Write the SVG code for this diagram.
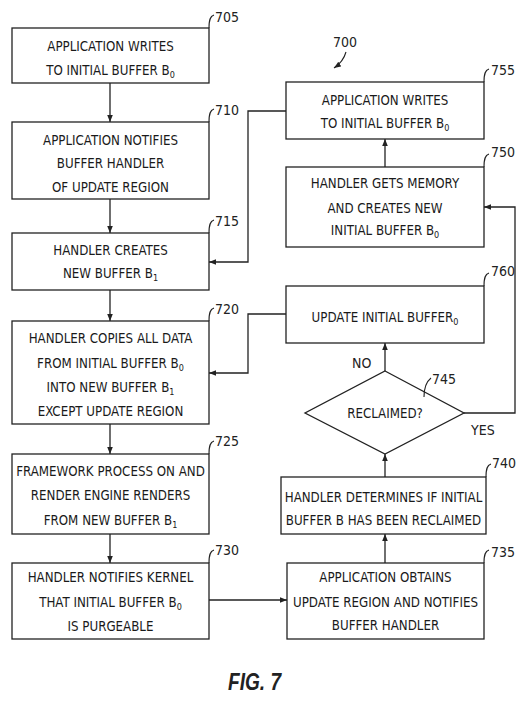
<svg xmlns="http://www.w3.org/2000/svg" width="529" height="702" viewBox="0 0 529 702">
<defs>
<marker id="ah" viewBox="0 0 10 10" refX="10" refY="5" markerWidth="7" markerHeight="7" markerUnits="userSpaceOnUse" orient="auto"><path d="M0,1 L10,5 L0,9 Z" fill="#222"/></marker>
</defs>
<style>
.box{fill:#fff;stroke:#222;stroke-width:1.3}
.t{font-family:"DejaVu Sans Condensed","Liberation Sans Narrow","Liberation Sans",sans-serif;font-size:13.2px;fill:#1a1a1a;text-anchor:middle}
.lbl{font-family:"DejaVu Sans Condensed","Liberation Sans Narrow","Liberation Sans",sans-serif;font-size:14px;fill:#222}
.c{fill:none;stroke:#222;stroke-width:1.3}
.ld{fill:none;stroke:#222;stroke-width:1.1}
.s{font-size:9px}
</style>
<rect width="529" height="702" fill="#fff"/>
<g id="connectors">
<path class="c" d="M110,83 V122" marker-end="url(#ah)"/>
<path class="c" d="M110,199 V233" marker-end="url(#ah)"/>
<path class="c" d="M110,290 V321" marker-end="url(#ah)"/>
<path class="c" d="M110,424 V454" marker-end="url(#ah)"/>
<path class="c" d="M110,534 V563" marker-end="url(#ah)"/>
<path class="c" d="M209,600 H287" marker-end="url(#ah)"/>
<path class="c" d="M385,563 V534" marker-end="url(#ah)"/>
<path class="c" d="M385,477 V454" marker-end="url(#ah)"/>
<path class="c" d="M385,371 V343" marker-end="url(#ah)"/>
<path class="c" d="M464,413 H515 V207 H484" marker-end="url(#ah)"/>
<path class="c" d="M385,167 V139" marker-end="url(#ah)"/>
<path class="c" d="M286,111 H248 V262 H209" marker-end="url(#ah)"/>
<path class="c" d="M286,314 H248 V373 H209" marker-end="url(#ah)"/>
<text class="lbl" x="352" y="368">NO</text>
<text class="lbl" x="471" y="435">YES</text>
</g>
<g id="n700">
<text class="lbl" x="333" y="47">700</text>
<path class="ld" d="M346,52 C344,59 340,64 334,68" marker-end="url(#ah)"/>
</g>
<g id="n705">
<rect class="box" x="12" y="28" width="197" height="55"/>
<text class="t" x="110.5" y="51">APPLICATION WRITES</text>
<text class="t" x="110.5" y="75">TO INITIAL BUFFER B<tspan class="s" dy="3">0</tspan></text>
<path class="ld" d="M209,28 C209,20 210,16 214,15"/><text class="lbl" x="215" y="22">705</text>
</g>
<g id="n710">
<rect class="box" x="12" y="122" width="197" height="77"/>
<text class="t" x="110.5" y="145">APPLICATION NOTIFIES</text>
<text class="t" x="110.5" y="168">BUFFER HANDLER</text>
<text class="t" x="110.5" y="192">OF UPDATE REGION</text>
<path class="ld" d="M209,122 C209,114 210,110 214,109"/><text class="lbl" x="215" y="115">710</text>
</g>
<g id="n715">
<rect class="box" x="12" y="233" width="197" height="57"/>
<text class="t" x="110.5" y="255">HANDLER CREATES</text>
<text class="t" x="110.5" y="278">NEW BUFFER B<tspan class="s" dy="3">1</tspan></text>
<path class="ld" d="M209,233 C209,225 210,221 214,220"/><text class="lbl" x="215" y="226">715</text>
</g>
<g id="n720">
<rect class="box" x="12" y="321" width="197" height="103"/>
<text class="t" x="110.5" y="343">HANDLER COPIES ALL DATA</text>
<text class="t" x="110.5" y="368">FROM INITIAL BUFFER B<tspan class="s" dy="3">0</tspan></text>
<text class="t" x="110.5" y="392">INTO NEW BUFFER B<tspan class="s" dy="3">1</tspan></text>
<text class="t" x="110.5" y="416">EXCEPT UPDATE REGION</text>
<path class="ld" d="M209,321 C209,313 210,309 214,308"/><text class="lbl" x="215" y="314">720</text>
</g>
<g id="n725">
<rect class="box" x="12" y="454" width="197" height="80"/>
<text class="t" x="110.5" y="476">FRAMEWORK PROCESS ON AND</text>
<text class="t" x="110.5" y="500">RENDER ENGINE RENDERS</text>
<text class="t" x="110.5" y="525">FROM NEW BUFFER B<tspan class="s" dy="3">1</tspan></text>
<path class="ld" d="M209,454 C209,446 210,442 214,441"/><text class="lbl" x="215" y="446">725</text>
</g>
<g id="n730">
<rect class="box" x="12" y="563" width="197" height="76"/>
<text class="t" x="110.5" y="582">HANDLER NOTIFIES KERNEL</text>
<text class="t" x="110.5" y="607">THAT INITIAL BUFFER B<tspan class="s" dy="3">0</tspan></text>
<text class="t" x="110.5" y="631">IS PURGEABLE</text>
<path class="ld" d="M209,563 C209,555 210,551 214,550"/><text class="lbl" x="215" y="555">730</text>
</g>
<g id="n755">
<rect class="box" x="286" y="82" width="198" height="57"/>
<text class="t" x="385" y="105">APPLICATION WRITES</text>
<text class="t" x="385" y="128">TO INITIAL BUFFER B<tspan class="s" dy="3">0</tspan></text>
<path class="ld" d="M484,82 C484,74 485,70 489,69"/><text class="lbl" x="491" y="75">755</text>
</g>
<g id="n750">
<rect class="box" x="286" y="167" width="198" height="80"/>
<text class="t" x="385" y="188">HANDLER GETS MEMORY</text>
<text class="t" x="385" y="213">AND CREATES NEW</text>
<text class="t" x="385" y="235">INITIAL BUFFER B<tspan class="s" dy="3">0</tspan></text>
<path class="ld" d="M484,167 C484,159 485,155 489,154"/><text class="lbl" x="491" y="157">750</text>
</g>
<g id="n760">
<rect class="box" x="286" y="286" width="198" height="57"/>
<text class="t" x="385" y="322">UPDATE INITIAL BUFFER<tspan class="s" dy="3">0</tspan></text>
<path class="ld" d="M484,286 C484,278 485,274 489,273"/><text class="lbl" x="491" y="276">760</text>
</g>
<g id="n745">
<path class="box" d="M385,371 L464,413 L385,454 L305,413 Z"/>
<text class="t" x="385" y="418">RECLAIMED?</text>
<path class="ld" d="M424,397 C424,388 426,382 431,378"/><text class="lbl" x="432" y="384">745</text>
</g>
<g id="n740">
<rect class="box" x="281" y="477" width="205" height="57"/>
<text class="t" x="383.5" y="502">HANDLER DETERMINES IF INITIAL</text>
<text class="t" x="383.5" y="525">BUFFER B HAS BEEN RECLAIMED</text>
<path class="ld" d="M486,477 C486,469 487,465 491,464"/><text class="lbl" x="492" y="468">740</text>
</g>
<g id="n735">
<rect class="box" x="287" y="563" width="197" height="76"/>
<text class="t" x="385.5" y="582">APPLICATION OBTAINS</text>
<text class="t" x="385.5" y="607">UPDATE REGION AND NOTIFIES</text>
<text class="t" x="385.5" y="630">BUFFER HANDLER</text>
<path class="ld" d="M484,563 C484,555 485,551 489,550"/><text class="lbl" x="491" y="557">735</text>
</g>
<text x="228" y="690" textLength="53" lengthAdjust="spacingAndGlyphs" style="font-family:'Liberation Sans',sans-serif;font-size:24px;font-style:italic;font-weight:bold;fill:#222">FIG. 7</text>
</svg>
